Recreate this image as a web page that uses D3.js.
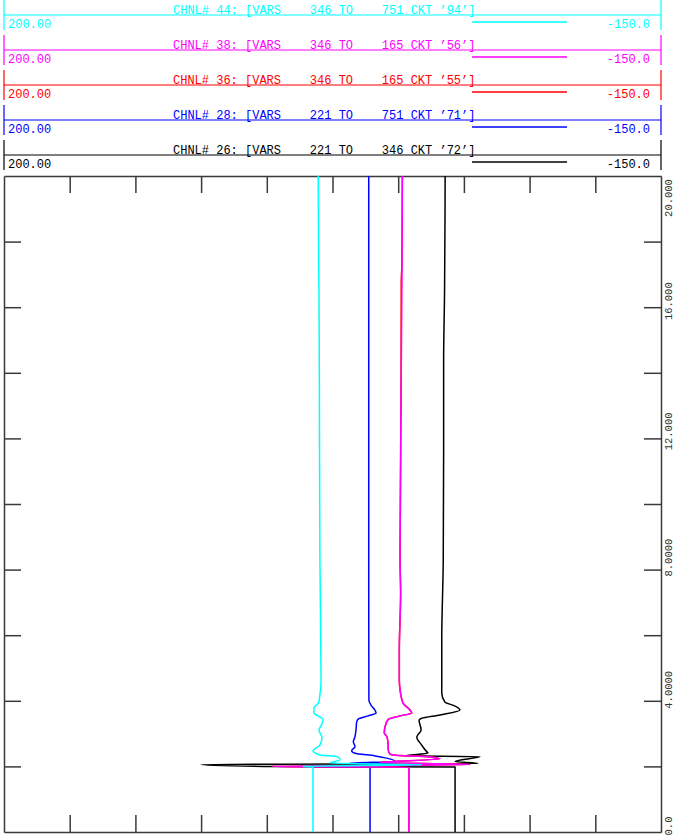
<!DOCTYPE html>
<html>
<head>
<meta charset="utf-8">
<script src="https://cdn.jsdelivr.net/npm/d3@7"></script>
<style>
  html, body { margin: 0; padding: 0; background: #fff; }
  svg { display: block; }
  text { font-family: "Liberation Mono", "Courier New", monospace; }
</style>
</head>
<body>
<svg id="chart" width="675" height="839"></svg>
<script>
// Channel legend entries (top to bottom)
const channelIds    = [44, 38, 36, 28, 26];
const channelTitles = [
  "CHNL# 44: [VARS    346 TO    751 CKT \u201994\u2019]",
  "CHNL# 38: [VARS    346 TO    165 CKT \u201956\u2019]",
  "CHNL# 36: [VARS    346 TO    165 CKT \u201955\u2019]",
  "CHNL# 28: [VARS    221 TO    751 CKT \u201971\u2019]",
  "CHNL# 26: [VARS    221 TO    346 CKT \u201972\u2019]"
];
const channelColors = ["#00ffff", "#ff00ff", "#ff0000", "#0000ff", "#000000"];
const scaleMaxLabel = "200.00";
const scaleMinLabel = "-150.0";

// Axis settings (VARS across, time in seconds up the page)
const varsDomain = [200, -150];
const varsTicks  = [165, 130, 95, 60, 25, -10, -45, -80, -115];
const timeDomain = [0, 20];
const timeTicks  = [2, 4, 6, 8, 10, 12, 14, 16, 18];
const timeLabelValues = [0, 4, 8, 12, 16, 20];
const timeLabelTexts  = ["0.0", "4.0000", "8.0000", "12.000", "16.000", "20.000"];

// CHNL# 26 : VARS 221 TO 346 CKT '72'
const ch26Time = [0, 1.98, 2.0, 2.06, 2.09, 2.15, 2.30, 2.32, 2.41, 2.45, 2.65, 2.90, 3.11, 3.41, 3.47, 3.57, 3.72, 3.84, 3.96, 4.24, 4.63, 5.85, 8.29, 11.65, 14.3, 16.5, 20];
const ch26Vars = [-40.3, -40.3, 62.0, 95.0, -52.5, -40.3, -53.6, -13.6, -25.9, -25.2, -22.5, -19.9, -22.2, -21.1, -22.5, -32.3, -42.9, -40.3, -34.9, -33.2, -33.2, -33.2, -34.0, -34.2, -34.2, -34.7, -35.0];

// CHNL# 28 : VARS 221 TO 751 CKT '71'
const ch28Time = [0, 1.98, 2.0, 2.06, 2.10, 2.15, 2.32, 2.40, 2.48, 2.60, 2.75, 2.91, 3.11, 3.36, 3.44, 3.54, 3.63, 3.72, 3.87, 4.02, 8.0, 14.0, 20];
const ch28Vars = [5.0, 5.0, 42.3, -21.6, 15.7, -8.3, 2.4, 13.0, 14.8, 13.0, 13.9, 13.0, 12.5, 12.1, 11.3, 6.1, 1.8, 2.4, 4.5, 5.6, 5.7, 5.7, 5.7];

// CHNL# 36 : VARS 346 TO 165 CKT '55'
const ch36Time = [0, 1.98, 2.0, 2.06, 2.12, 2.23, 2.29, 2.35, 2.38, 2.50, 2.71, 2.91, 3.02, 3.21, 3.44, 3.54, 3.63, 3.72, 3.93, 4.33, 4.63, 5.55, 7.29, 8.29, 13.2, 16.8, 17.3, 20];
const ch36Vars = [-15.7, -15.7, 57.2, -48.3, -0.3, -32.3, -26.9, -7.2, -5.6, -4.7, -4.6, -3.9, -2.6, -3.0, -4.7, -11.0, -17.2, -16.3, -12.6, -11.0, -10.6, -10.6, -11.3, -11.0, -11.5, -11.6, -12.0, -12.2];

// CHNL# 38 : VARS 346 TO 165 CKT '56'
const ch38Time = [0, 1.98, 2.0, 2.06, 2.12, 2.23, 2.29, 2.35, 2.38, 2.50, 2.71, 2.91, 3.02, 3.21, 3.44, 3.54, 3.63, 3.72, 3.93, 4.33, 4.63, 5.55, 7.29, 8.29, 13.2, 16.8, 20];
const ch38Vars = [-15.7, -15.7, 57.2, -48.3, -0.3, -32.3, -26.9, -7.2, -5.6, -4.7, -4.6, -3.9, -2.6, -3.0, -4.7, -11.0, -17.2, -16.3, -12.6, -11.0, -10.6, -10.6, -11.3, -11.0, -11.5, -12.0, -12.2];

// CHNL# 44 : VARS 346 TO 751 CKT '94'
const ch44Time = [0, 1.98, 2.0, 2.05, 2.10, 2.20, 2.29, 2.35, 2.41, 2.47, 2.65, 2.87, 3.11, 3.29, 3.44, 3.54, 3.63, 3.78, 3.93, 4.18, 4.63, 8.29, 11.65, 16.5, 17.3, 20];
const ch44Vars = [35.4, 35.4, 40.7, -22.7, 26.3, 21.0, 22.1, 31.7, 34.3, 35.4, 31.7, 30.6, 32.2, 30.6, 30.0, 32.8, 34.9, 34.9, 32.5, 31.7, 31.1, 31.7, 31.9, 32.2, 32.4, 32.6];

const plot = { left: 4, right: 661, top: 176, bottom: 832 };
const frameColor = "#3a3a3a";

const svg = d3.select("#chart");

const x = d3.scaleLinear().domain(varsDomain).range([plot.left, plot.right]);
const y = d3.scaleLinear().domain(timeDomain).range([plot.bottom, plot.top]);

// ---- legend bands ----
const bandStep = 35, firstLineY = 15;
channelIds.forEach((id, i) => {
  const ly = firstLineY + bandStep * i;
  const c = channelColors[i];
  const g = svg.append("g").attr("class", "band");
  g.append("line").attr("x1", plot.left).attr("x2", plot.right)
    .attr("y1", ly).attr("y2", ly).attr("stroke", c).attr("stroke-width", 1.2);
  g.append("line").attr("x1", plot.left).attr("x2", plot.left)
    .attr("y1", ly - 15).attr("y2", ly + 15).attr("stroke", c).attr("stroke-width", 1.2);
  g.append("line").attr("x1", plot.right).attr("x2", plot.right)
    .attr("y1", ly - 15).attr("y2", ly + 15).attr("stroke", c).attr("stroke-width", 1.2);
  g.append("text").attr("x", 173).attr("y", ly - 1.5)
    .attr("fill", c).attr("font-size", 12).attr("xml:space", "preserve")
    .style("white-space", "pre").text(channelTitles[i]);
  g.append("text").attr("x", 8).attr("y", ly + 13)
    .attr("fill", c).attr("font-size", 12).text(scaleMaxLabel);
  g.append("text").attr("x", 650).attr("y", ly + 13).attr("text-anchor", "end")
    .attr("fill", c).attr("font-size", 12).text(scaleMinLabel);
  g.append("line").attr("x1", 472).attr("x2", 567)
    .attr("y1", ly + 7).attr("y2", ly + 7).attr("stroke", c).attr("stroke-width", 1.5);
});

// ---- plot frame with inward ticks ----
const tick = 17;
function styleAxis(sel) {
  sel.selectAll("path").attr("stroke", frameColor).attr("stroke-width", 1.5);
  sel.selectAll("line").attr("stroke", frameColor).attr("stroke-width", 1.5);
  sel.selectAll("text").remove();
}
svg.append("g").attr("transform", `translate(0,${plot.top})`)
  .call(d3.axisBottom(x).tickValues(varsTicks).tickSize(tick).tickSizeOuter(0).tickFormat(""))
  .call(styleAxis);
svg.append("g").attr("transform", `translate(0,${plot.bottom})`)
  .call(d3.axisTop(x).tickValues(varsTicks).tickSize(tick).tickSizeOuter(0).tickFormat(""))
  .call(styleAxis);
svg.append("g").attr("transform", `translate(${plot.left},0)`)
  .call(d3.axisRight(y).tickValues(timeTicks).tickSize(tick).tickSizeOuter(0).tickFormat(""))
  .call(styleAxis);
svg.append("g").attr("transform", `translate(${plot.right},0)`)
  .call(d3.axisLeft(y).tickValues(timeTicks).tickSize(tick).tickSizeOuter(0).tickFormat(""))
  .call(styleAxis);

// time labels, rotated, to the right of the frame
const labelShift = [ -6, -11, -12, -7, -6, 22 ];
timeLabelValues.forEach((t, i) => {
  const cy = y(t) + labelShift[i];
  svg.append("text")
    .attr("transform", `translate(672,${cy}) rotate(-90)`)
    .attr("text-anchor", "middle")
    .attr("font-size", 10.5)
    .attr("fill", "#333")
    .text(timeLabelTexts[i]);
});

// ---- traces ----
const line = d3.line().x(d => x(d[1])).y(d => y(d[0])).curve(d3.curveMonotoneY);
const traces = [
  { t: ch26Time, v: ch26Vars, c: "#000000" },
  { t: ch28Time, v: ch28Vars, c: "#0000ff" },
  { t: ch36Time, v: ch36Vars, c: "#ff0000" },
  { t: ch38Time, v: ch38Vars, c: "#ff00ff" },
  { t: ch44Time, v: ch44Vars, c: "#00ffff" }
];
svg.append("clipPath").attr("id", "plotclip").append("rect")
  .attr("x", plot.left).attr("y", plot.top)
  .attr("width", plot.right - plot.left).attr("height", plot.bottom - plot.top);
traces.forEach(tr => {
  svg.append("path")
    .datum(tr.t.map((t, i) => [t, tr.v[i]]))
    .attr("clip-path", "url(#plotclip)")
    .attr("fill", "none")
    .attr("stroke", tr.c)
    .attr("stroke-width", 1.5)
    .attr("stroke-linejoin", "round")
    .attr("d", line);
});
</script>
</body>
</html>
